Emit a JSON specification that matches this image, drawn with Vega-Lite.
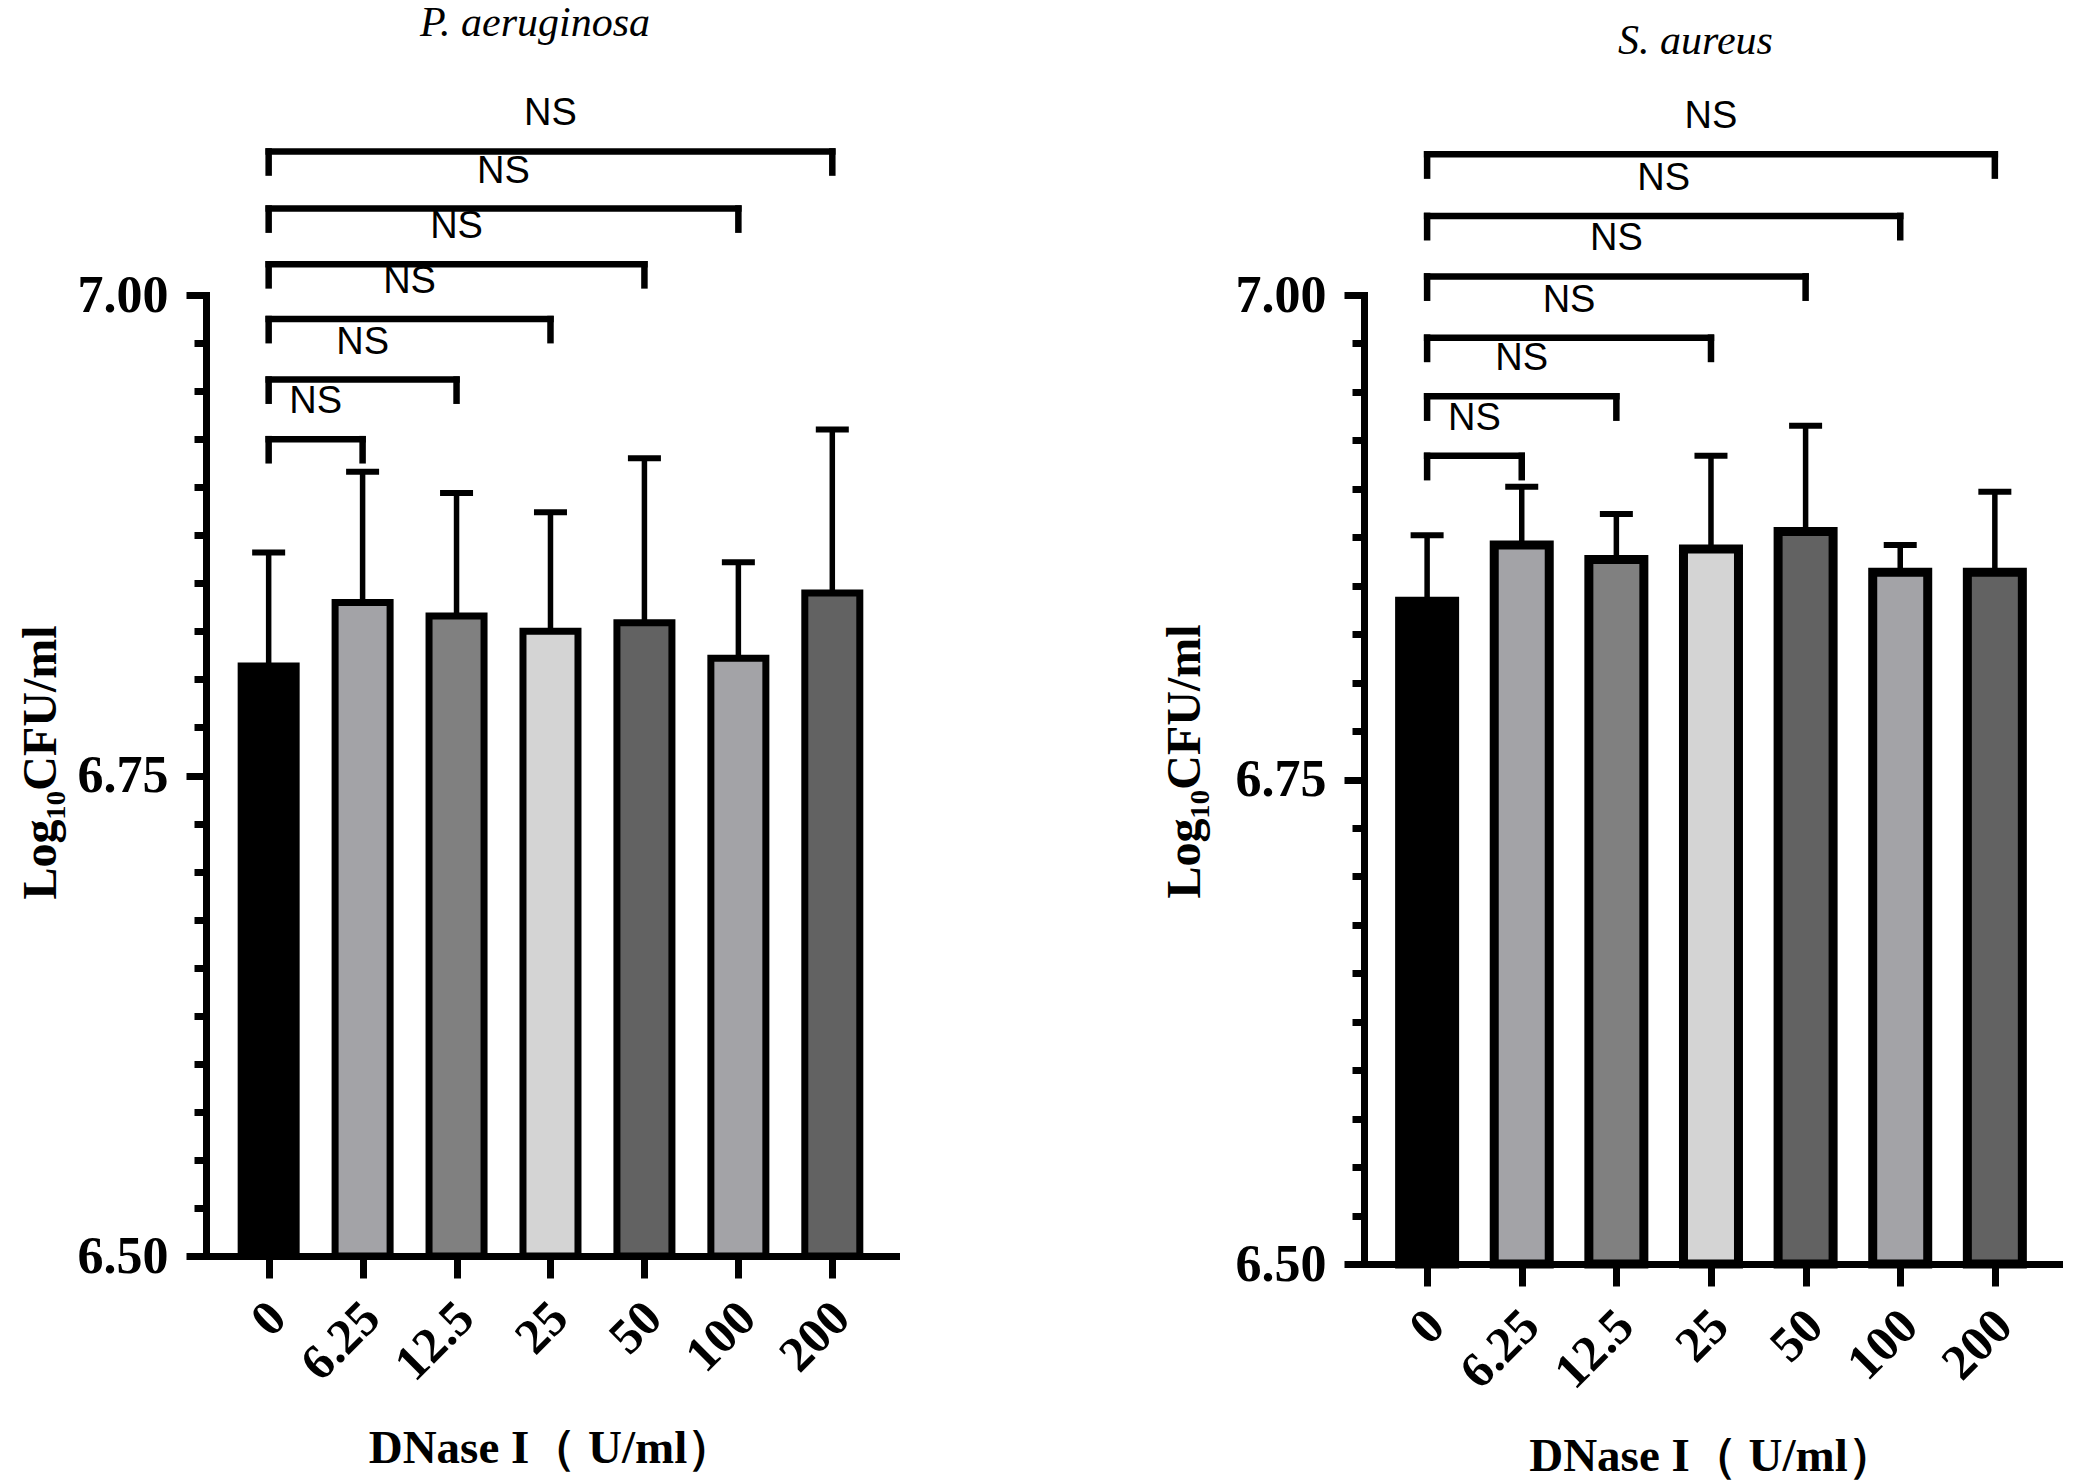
{
  "$schema": "https://vega.github.io/schema/vega-lite/v6.json",
  "background": "white",
  "padding": {"left": 17, "top": 2, "right": 5, "bottom": 5},
  "datasets": {
    "pa_bars": [
      {"idx": 0, "dose": "0", "mean": 6.807, "upper": 6.866},
      {"idx": 1, "dose": "6.25", "mean": 6.840, "upper": 6.908},
      {"idx": 2, "dose": "12.5", "mean": 6.833, "upper": 6.897},
      {"idx": 3, "dose": "25", "mean": 6.825, "upper": 6.887},
      {"idx": 4, "dose": "50", "mean": 6.8295, "upper": 6.915},
      {"idx": 5, "dose": "100", "mean": 6.811, "upper": 6.861},
      {"idx": 6, "dose": "200", "mean": 6.845, "upper": 6.930}
    ],
    "pa_sig": [
      {"start": 0, "end": 1, "mid": 0.5, "level": 6.925, "low": 6.914, "label": "NS"},
      {"start": 0, "end": 2, "mid": 1, "level": 6.956, "low": 6.945, "label": "NS"},
      {"start": 0, "end": 3, "mid": 1.5, "level": 6.9875, "low": 6.9765, "label": "NS"},
      {"start": 0, "end": 4, "mid": 2, "level": 7.016, "low": 7.005, "label": "NS"},
      {"start": 0, "end": 5, "mid": 2.5, "level": 7.045, "low": 7.034, "label": "NS"},
      {"start": 0, "end": 6, "mid": 3, "level": 7.0747, "low": 7.0637, "label": "NS"}
    ],
    "sa_bars": [
      {"idx": 0, "dose": "0", "mean": 6.842, "upper": 6.876},
      {"idx": 1, "dose": "6.25", "mean": 6.871, "upper": 6.901},
      {"idx": 2, "dose": "12.5", "mean": 6.8635, "upper": 6.887},
      {"idx": 3, "dose": "25", "mean": 6.869, "upper": 6.917},
      {"idx": 4, "dose": "50", "mean": 6.878, "upper": 6.9325},
      {"idx": 5, "dose": "100", "mean": 6.857, "upper": 6.871},
      {"idx": 6, "dose": "200", "mean": 6.857, "upper": 6.8985}
    ],
    "sa_sig": [
      {"start": 0, "end": 1, "mid": 0.5, "level": 6.917, "low": 6.906, "label": "NS"},
      {"start": 0, "end": 2, "mid": 1, "level": 6.9477, "low": 6.9367, "label": "NS"},
      {"start": 0, "end": 3, "mid": 1.5, "level": 6.978, "low": 6.967, "label": "NS"},
      {"start": 0, "end": 4, "mid": 2, "level": 7.0096, "low": 6.9986, "label": "NS"},
      {"start": 0, "end": 5, "mid": 2.5, "level": 7.0408, "low": 7.0298, "label": "NS"},
      {"start": 0, "end": 6, "mid": 3, "level": 7.0726, "low": 7.0616, "label": "NS"}
    ]
  },
  "config": {
    "view": {"stroke": null},
    "axis": {
      "grid": false,
      "domainColor": "black",
      "domainWidth": 7,
      "domainCap": "square",
      "tickColor": "black",
      "tickWidth": 7,
      "labelColor": "black",
      "labelFont": "Liberation Serif",
      "labelFontWeight": "bold",
      "titleColor": "black",
      "titleFont": "Liberation Serif",
      "titleFontWeight": "bold"
    }
  },
  "hconcat": [
    {
      "width": 690,
      "height": 961,
      "title": {"text": "P. aeruginosa", "font": "Liberation Serif", "fontStyle": "italic", "fontWeight": "normal", "fontSize": 42, "color": "black", "offset": 50, "dx": -16},
      "layer": [
        {
          "data": {"name": "pa_bars"},
          "mark": {"type": "rule", "color": "black", "strokeWidth": 5.5},
          "encoding": {
            "x": {"field": "idx", "type": "quantitative"},
            "y": {"field": "mean", "type": "quantitative"},
            "y2": {"field": "upper"}
          }
        },
        {
          "data": {"name": "pa_bars"},
          "mark": {"type": "tick", "orient": "horizontal", "color": "black", "opacity": 1, "size": 33, "thickness": 6},
          "encoding": {
            "x": {"field": "idx", "type": "quantitative"},
            "y": {"field": "upper", "type": "quantitative"}
          }
        },
        {
          "data": {"name": "pa_bars"},
          "mark": {"type": "bar", "width": 55, "stroke": "black", "strokeWidth": 7},
          "encoding": {
            "x": {
              "field": "idx", "type": "quantitative",
              "scale": {"domain": [-0.667, 6.678], "nice": false, "zero": false, "padding": 0},
              "axis": {
                "values": [0, 1, 2, 3, 4, 5, 6],
                "labelExpr": "['0','6.25','12.5','25','50','100','200'][datum.value]",
                "labelAngle": -45, "labelAlign": "right", "labelBaseline": "middle",
                "labelFontSize": 50, "labelPadding": 32, "labelOffset": 9, "tickSize": 22,
                "labelOverlap": false, "labelFlush": false,
                "title": "DNase I（ U/ml）", "titleFontSize": 47, "titlePadding": 36
              }
            },
            "y": {
              "field": "mean", "type": "quantitative",
              "scale": {"domain": [6.5, 7.0], "nice": false, "zero": false, "padding": 0},
              "axis": {
                "values": [6.5, 6.525, 6.55, 6.575, 6.6, 6.625, 6.65, 6.675, 6.7, 6.725, 6.75, 6.775, 6.8, 6.825, 6.85, 6.875, 6.9, 6.925, 6.95, 6.975, 7.0],
                "labelExpr": "abs(datum.value*4-round(datum.value*4))<0.001 ? format(datum.value,'.2f') : ''",
                "tickSize": {"condition": {"test": "abs(datum.value*4-round(datum.value*4))<0.001", "value": 20}, "value": 12},
                "labelFontSize": 52, "labelPadding": 18,
                "title": "Log₁₀CFU/ml", "titleFontSize": 48, "titlePadding": 12, "titleY": 467
              }
            },
            "y2": {"datum": 6.5},
            "color": {
              "field": "dose", "type": "nominal", "legend": null,
              "scale": {"domain": ["0", "6.25", "12.5", "25", "50", "100", "200"], "range": ["#000000", "#a3a3a7", "#808080", "#d4d4d4", "#626262", "#a3a3a7", "#626262"]}
            }
          }
        },
        {
          "data": {"name": "pa_sig"},
          "mark": {"type": "rule", "color": "black", "strokeWidth": 6.5, "strokeCap": "square"},
          "encoding": {
            "x": {"field": "start", "type": "quantitative"},
            "x2": {"field": "end"},
            "y": {"field": "level", "type": "quantitative"}
          }
        },
        {
          "data": {"name": "pa_sig"},
          "mark": {"type": "rule", "color": "black", "strokeWidth": 6.5, "strokeCap": "square"},
          "encoding": {
            "x": {"field": "start", "type": "quantitative"},
            "y": {"field": "level", "type": "quantitative"},
            "y2": {"field": "low"}
          }
        },
        {
          "data": {"name": "pa_sig"},
          "mark": {"type": "rule", "color": "black", "strokeWidth": 6.5, "strokeCap": "square"},
          "encoding": {
            "x": {"field": "end", "type": "quantitative"},
            "y": {"field": "level", "type": "quantitative"},
            "y2": {"field": "low"}
          }
        },
        {
          "data": {"name": "pa_sig"},
          "mark": {"type": "text", "font": "Liberation Sans", "fontSize": 38, "color": "black", "baseline": "middle", "dy": -37},
          "encoding": {
            "x": {"field": "mid", "type": "quantitative"},
            "y": {"field": "level", "type": "quantitative"},
            "text": {"field": "label"}
          }
        }
      ]
    },
    {
      "width": 695,
      "height": 969,
      "title": {"text": "S. aureus", "font": "Liberation Serif", "fontStyle": "italic", "fontWeight": "normal", "fontSize": 42, "color": "black", "offset": 35, "dx": -16},
      "layer": [
        {
          "data": {"name": "sa_bars"},
          "mark": {"type": "rule", "color": "black", "strokeWidth": 5.5},
          "encoding": {
            "x": {"field": "idx", "type": "quantitative"},
            "y": {"field": "mean", "type": "quantitative"},
            "y2": {"field": "upper"}
          }
        },
        {
          "data": {"name": "sa_bars"},
          "mark": {"type": "tick", "orient": "horizontal", "color": "black", "opacity": 1, "size": 33, "thickness": 6},
          "encoding": {
            "x": {"field": "idx", "type": "quantitative"},
            "y": {"field": "upper", "type": "quantitative"}
          }
        },
        {
          "data": {"name": "sa_bars"},
          "mark": {"type": "bar", "width": 55, "stroke": "black", "strokeWidth": 9},
          "encoding": {
            "x": {
              "field": "idx", "type": "quantitative",
              "scale": {"domain": [-0.667, 6.678], "nice": false, "zero": false, "padding": 0},
              "axis": {
                "values": [0, 1, 2, 3, 4, 5, 6],
                "labelExpr": "['0','6.25','12.5','25','50','100','200'][datum.value]",
                "labelAngle": -45, "labelAlign": "right", "labelBaseline": "middle",
                "labelFontSize": 50, "labelPadding": 32, "labelOffset": 9, "tickSize": 22,
                "labelOverlap": false, "labelFlush": false,
                "title": "DNase I（ U/ml）", "titleFontSize": 47, "titlePadding": 36
              }
            },
            "y": {
              "field": "mean", "type": "quantitative",
              "scale": {"domain": [6.5, 7.0], "nice": false, "zero": false, "padding": 0},
              "axis": {
                "values": [6.5, 6.525, 6.55, 6.575, 6.6, 6.625, 6.65, 6.675, 6.7, 6.725, 6.75, 6.775, 6.8, 6.825, 6.85, 6.875, 6.9, 6.925, 6.95, 6.975, 7.0],
                "labelExpr": "abs(datum.value*4-round(datum.value*4))<0.001 ? format(datum.value,'.2f') : ''",
                "tickSize": {"condition": {"test": "abs(datum.value*4-round(datum.value*4))<0.001", "value": 20}, "value": 12},
                "labelFontSize": 52, "labelPadding": 18,
                "title": "Log₁₀CFU/ml", "titleFontSize": 48, "titlePadding": 26, "titleY": 466
              }
            },
            "y2": {"datum": 6.5},
            "color": {
              "field": "dose", "type": "nominal", "legend": null,
              "scale": {"domain": ["0", "6.25", "12.5", "25", "50", "100", "200"], "range": ["#000000", "#a3a3a7", "#808080", "#d4d4d4", "#626262", "#a3a3a7", "#626262"]}
            }
          }
        },
        {
          "data": {"name": "sa_sig"},
          "mark": {"type": "rule", "color": "black", "strokeWidth": 6.5, "strokeCap": "square"},
          "encoding": {
            "x": {"field": "start", "type": "quantitative"},
            "x2": {"field": "end"},
            "y": {"field": "level", "type": "quantitative"}
          }
        },
        {
          "data": {"name": "sa_sig"},
          "mark": {"type": "rule", "color": "black", "strokeWidth": 6.5, "strokeCap": "square"},
          "encoding": {
            "x": {"field": "start", "type": "quantitative"},
            "y": {"field": "level", "type": "quantitative"},
            "y2": {"field": "low"}
          }
        },
        {
          "data": {"name": "sa_sig"},
          "mark": {"type": "rule", "color": "black", "strokeWidth": 6.5, "strokeCap": "square"},
          "encoding": {
            "x": {"field": "end", "type": "quantitative"},
            "y": {"field": "level", "type": "quantitative"},
            "y2": {"field": "low"}
          }
        },
        {
          "data": {"name": "sa_sig"},
          "mark": {"type": "text", "font": "Liberation Sans", "fontSize": 38, "color": "black", "baseline": "middle", "dy": -37},
          "encoding": {
            "x": {"field": "mid", "type": "quantitative"},
            "y": {"field": "level", "type": "quantitative"},
            "text": {"field": "label"}
          }
        }
      ]
    }
  ],
  "spacing": 468,
  "bounds": "flush"
}
